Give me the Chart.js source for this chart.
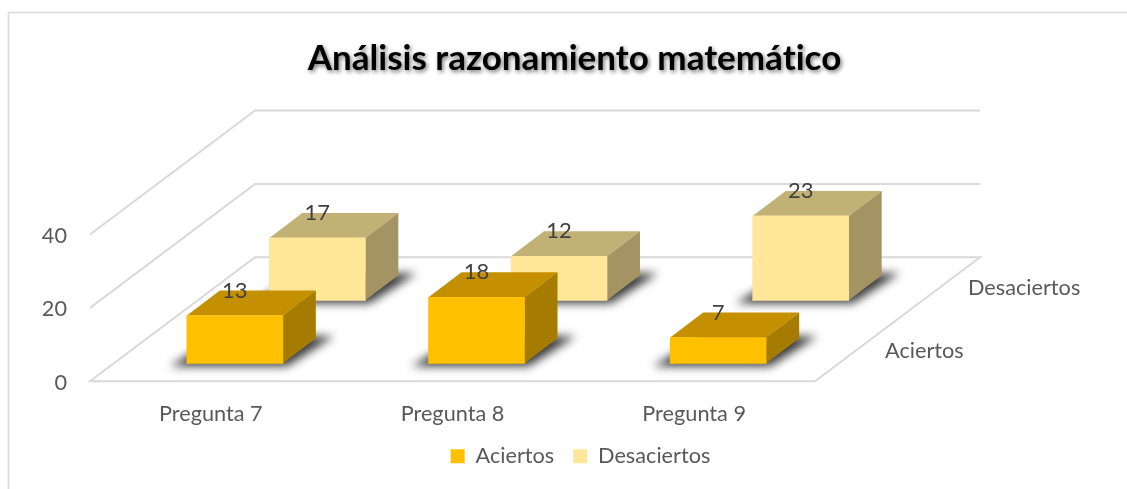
<!DOCTYPE html>
<html><head><meta charset="utf-8">
<style>html,body{margin:0;padding:0;background:#fff}canvas{display:block}</style>
<script src="https://cdn.jsdelivr.net/npm/chart.js@4"></script></head>
<body><canvas id="c" width="1127" height="489"></canvas>
<script>
const categories = ["Pregunta 7", "Pregunta 8", "Pregunta 9"];
const aciertos = [13, 18, 7];
const desaciertos = [17, 12, 23];
const titleText = "Análisis razonamiento matemático";
const FONT = "Lato";
const floorDepth = {dx:165, dy:-124};
const barDepth = {dx:33, dy:-25};
const seriesOffset = [{dx:24, dy:-18},{dx:106.5, dy:-81}];
const faces = [
  {front:"#FFC000", top:"#C49000", side:"#A67C00"},
  {front:"#FFE699", top:"#C2B175", side:"#A49463"}
];
const seriesLabelPos = [{x:885,y:351},{x:968,y:288}];

const threeD = {
  id:"threeD",
  afterLayout(chart){
    const t=chart.titleBlock, l=chart.legend;
    t.left=22; t.right=1127;
    l.left=34; l.right=1127;
    if(!t._wrapped){
      const orig=t.draw; t._wrapped=true;
      t.draw=function(){
        const c=chart.ctx; c.save();
        c.letterSpacing="0.01px";
        c.shadowColor="rgba(0,0,0,.55)"; c.shadowBlur=4; c.shadowOffsetX=1.5; c.shadowOffsetY=2;
        orig.call(this); c.restore();
      };
    }
  },
  afterDatasetsUpdate(chart){
    chart.data.datasets.forEach((d,i)=>{
      const o=seriesOffset[i];
      chart.getDatasetMeta(i).data.forEach(el=>{ el.x+=o.dx; el.y+=o.dy; el.base+=o.dy; });
    });
  },
  beforeDraw(chart){
    const c=chart.ctx; c.save();
    c.strokeStyle="#DADADA"; c.lineWidth=1.6;
    c.beginPath(); c.moveTo(8.5,489); c.lineTo(8.5,12.5); c.lineTo(1127,12.5); c.stroke();
    c.restore();
  },
  beforeDatasetsDraw(chart){
    const c=chart.ctx, a=chart.chartArea, y=chart.scales.y;
    const L=a.left, R=a.right, D=floorDepth;
    c.save(); c.strokeStyle="#D9D9D9"; c.lineWidth=2; c.lineJoin="miter";
    [20,40].forEach(v=>{
      const p=y.getPixelForValue(v);
      c.beginPath(); c.moveTo(L,p); c.lineTo(L+D.dx,p+D.dy); c.lineTo(R+D.dx,p+D.dy); c.stroke();
    });
    const b=y.getPixelForValue(0);
    c.beginPath(); c.moveTo(L,b); c.lineTo(L+D.dx,b+D.dy); c.lineTo(R+D.dx,b+D.dy); c.lineTo(R,b); c.closePath(); c.stroke();
    c.restore();
  },
  beforeDatasetDraw(chart,args){
    const c=chart.ctx, f=faces[args.index], B=barDepth;
    args.meta.data.forEach(el=>{
      const l=el.x-el.width/2, r=el.x+el.width/2, t=el.y, b=el.base;
      c.save();
      c.filter="blur(5px)"; c.fillStyle="rgba(30,30,30,.88)";
      c.beginPath(); c.moveTo(l-17,b+3); c.lineTo(r+4,b+3); c.lineTo(r+B.dx+18,b+B.dy-2); c.lineTo(l+B.dx,b+B.dy-2); c.closePath(); c.fill();
      c.restore();
      c.save(); c.lineJoin="round";
      c.fillStyle=f.top;
      c.beginPath(); c.moveTo(l,t); c.lineTo(l+B.dx,t+B.dy); c.lineTo(r+B.dx,t+B.dy); c.lineTo(r,t); c.closePath(); c.fill();
      c.fillStyle=f.side;
      c.beginPath(); c.moveTo(r,t); c.lineTo(r+B.dx,t+B.dy); c.lineTo(r+B.dx,b+B.dy); c.lineTo(r,b); c.closePath(); c.fill();
      c.restore();
    });
  },
  afterDatasetsDraw(chart){
    const c=chart.ctx, B=barDepth;
    c.save(); c.font="22px "+FONT; c.textAlign="center"; c.textBaseline="middle"; c.fillStyle="#404040";
    chart.data.datasets.forEach((d,i)=>{
      chart.getDatasetMeta(i).data.forEach((el,j)=>{ c.fillText(String(d.data[j]),el.x,el.y+B.dy); });
    });
    c.font="21.7px "+FONT; c.textAlign="left"; c.fillStyle="#595959";
    chart.data.datasets.forEach((d,i)=>{ c.fillText(d.label,seriesLabelPos[i].x,seriesLabelPos[i].y); });
    c.restore();
  }
};

new Chart(document.getElementById("c"),{
  type:"bar",
  data:{labels:categories,datasets:[
    {label:"Aciertos",data:aciertos,backgroundColor:faces[0].front,borderWidth:0,barThickness:96,clip:false,grouped:false},
    {label:"Desaciertos",data:desaciertos,backgroundColor:faces[1].front,borderWidth:0,barThickness:96,clip:false,grouped:false}
  ]},
  options:{
    responsive:false,animation:false,devicePixelRatio:1,
    layout:{padding:{left:0,right:312,top:0,bottom:12}},
    plugins:{
      title:{display:true,text:titleText,color:"#000",font:{family:FONT,size:35,weight:"bold"},padding:{top:37.5,bottom:155}},
      legend:{position:"bottom",labels:{color:"#595959",font:{family:FONT,size:21.7},boxWidth:14,boxHeight:14,padding:19}},
      tooltip:{enabled:false}
    },
    scales:{
      x:{grid:{display:false},border:{display:false},
         ticks:{color:"#595959",font:{family:FONT,size:21.7},padding:12,maxRotation:0},
         afterFit(s){s.height=45;}},
      y:{min:0,max:40,grid:{display:false},border:{display:false},
         ticks:{stepSize:20,color:"#595959",font:{family:FONT,size:21.7},padding:15,labelOffset:1.5},
         afterFit(s){s.width=90;}}
    }
  },
  plugins:[threeD]
});
</script></body></html>
